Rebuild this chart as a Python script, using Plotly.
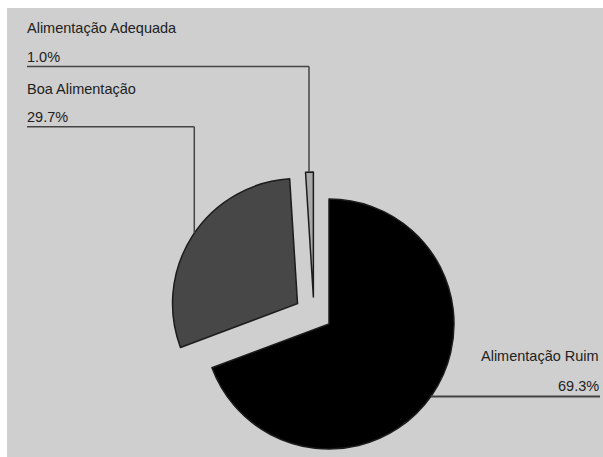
import math
import plotly.graph_objects as go

# --- data ---------------------------------------------------------------
categories = ["Alimentação Ruim", "Boa Alimentação", "Alimentação Adequada"]
percentages = [69.3, 29.7, 1.0]
value_labels = ["69.3%", "29.7%", "1.0%"]

# --- styling / layout ---------------------------------------------------
W, H = 603, 457
slice_colors = ["#000000", "#474747", "#a9a9a9"]
outline_color = "#1c1c1c"
bg_color = "#cfcfcf"
text_color = "#222222"
leader_color = "#444444"
font_family = "Arial, Liberation Sans, sans-serif"
font_size = 14.5

CENTER = (329.0, 324.0)   # pixel centre of the un-exploded pie
RADIUS = 125.0            # pixel radius
PULL = [0.0, 0.30, 0.25]  # explode distance as a fraction of the radius
PULL_DIR = [None, None, 330.0]  # explode direction (deg clockwise from 12h); None = slice bisector

total = sum(percentages)


def slice_center(i):
    """Pixel centre of slice i after exploding it."""
    start = sum(percentages[:i]) / total * 360.0
    span = percentages[i] / total * 360.0
    ang = PULL_DIR[i] if PULL_DIR[i] is not None else start + span / 2.0
    d = PULL[i] * RADIUS
    a = math.radians(ang)
    return CENTER[0] + d * math.sin(a), CENTER[1] - d * math.cos(a)


def domain_for(cx, cy, r):
    return dict(x=[(cx - r) / W, (cx + r) / W],
                y=[1 - (cy + r) / H, 1 - (cy - r) / H])


fig = go.Figure()

# one pie trace per slice, each drawn at its own (exploded) centre
for i in range(len(categories)):
    cx, cy = slice_center(i)
    colors = ["rgba(0,0,0,0)"] * len(categories)
    lcolors = ["rgba(0,0,0,0)"] * len(categories)
    colors[i] = slice_colors[i]
    lcolors[i] = outline_color
    fig.add_trace(go.Pie(
        labels=categories,
        values=percentages,
        sort=False,
        direction="clockwise",
        rotation=0,
        textinfo="none",
        hoverinfo="skip",
        showlegend=False,
        marker=dict(colors=colors, line=dict(color=lcolors, width=1.5)),
        domain=domain_for(cx, cy, RADIUS),
    ))

# --- labels and leader lines -------------------------------------------
shapes = [dict(type="rect", xref="x", yref="y", x0=7, x1=W, y0=8, y1=H,
               fillcolor=bg_color, line=dict(width=0), layer="below")]
annotations = []


def label(text, x, y, anchor):
    annotations.append(dict(text=text, x=x, y=y, xref="x", yref="y",
                            xanchor=anchor, yanchor="middle", showarrow=False,
                            font=dict(family=font_family, size=font_size, color=text_color)))


def seg(x0, y0, x1, y1, width=1.5):
    shapes.append(dict(type="line", xref="x", yref="y", x0=x0, y0=y0, x1=x1, y1=y1,
                       line=dict(color=leader_color, width=width)))


def arc_y_top(i, x):
    cx, cy = slice_center(i)
    return cy - math.sqrt(RADIUS ** 2 - (x - cx) ** 2)


def arc_x_right(i, y):
    cx, cy = slice_center(i)
    return cx + math.sqrt(RADIUS ** 2 - (y - cy) ** 2)


# Alimentação Adequada (top-left, first block)
label(categories[2], 25, 27.6, "left")
label(value_labels[2], 25, 57.4, "left")
y_line, x_drop = 66.5, 309.0
seg(27, y_line, x_drop, y_line)
seg(x_drop, y_line, x_drop, arc_y_top(2, x_drop))

# Boa Alimentação (top-left, second block)
label(categories[1], 25, 88.8, "left")
label(value_labels[1], 25, 117.4, "left")
y_line, x_drop = 126.8, 194.3
seg(27, y_line, x_drop, y_line)
seg(x_drop, y_line, x_drop, arc_y_top(1, x_drop))

# Alimentação Ruim (bottom-right)
label(categories[0], 600.5, 355.8, "right")
label(value_labels[0], 600.5, 386.3, "right")
y_line = 396.5
seg(arc_x_right(0, y_line), y_line, 600, y_line, width=2.2)

fig.update_layout(
    width=W, height=H,
    margin=dict(l=0, r=0, t=0, b=0),
    paper_bgcolor="#ffffff",
    plot_bgcolor="rgba(0,0,0,0)",
    xaxis=dict(range=[0, W], visible=False, fixedrange=True, domain=[0, 1]),
    yaxis=dict(range=[H, 0], visible=False, fixedrange=True, domain=[0, 1]),
    shapes=shapes,
    annotations=annotations,
    showlegend=False,
)

fig.write_html("out.html")
